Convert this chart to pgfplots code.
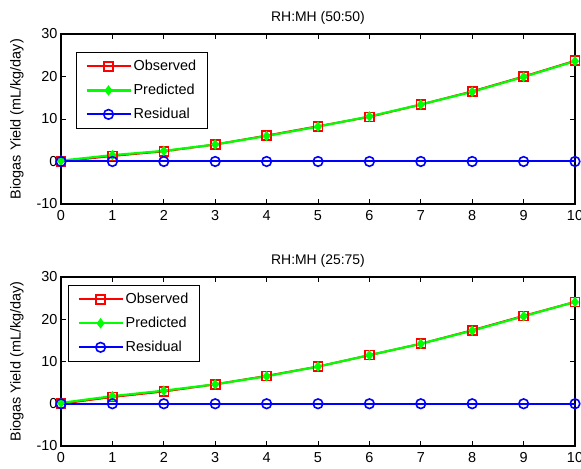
\documentclass[border=0pt]{standalone}
\usepackage{pgfplots}
\pgfplotsset{compat=1.18}
\usepackage{fontspec}
\setmainfont{Liberation Sans}
\begin{document}
\begin{tikzpicture}
\useasboundingbox (0bp,0bp) rectangle (581bp,469bp);
\pgfplotsset{
  myax/.style={
    scale only axis, width=514bp, height=170bp,
    xmin=0, xmax=10, ymin=-10, ymax=30,
    xtick={0,...,10}, ytick={-10,0,10,20,30},
    tick align=inside, tick pos=both,
    major tick length=5bp,
    axis line style={line width=1.1bp},
    every tick/.style={black, line width=0.9bp},
    tick label style={font=\fontsize{14.5}{16}\selectfont},
    xticklabel style={yshift=-3bp},
    /pgf/number format/assume math mode=true,
    title style={font=\fontsize{14}{16}\selectfont, yshift=0bp},
    ylabel={Biogas Yield (mL/kg/day)},
    ylabel style={font=\fontsize{14.5}{16}\selectfont, at={(axis description cs:-0.0856,0.5)}, anchor=center},
    legend style={font=\fontsize{14.5}{16}\selectfont, draw=black, line width=1bp,
      anchor=north west, inner xsep=9bp, inner ysep=6bp, row sep=8bp, cells={anchor=west},
      /tikz/every even column/.append style={column sep=5bp}},
    legend image code/.code={
      \draw[mark repeat=2,mark phase=2] plot coordinates {(0bp,0bp) (22bp,0bp) (44bp,0bp)};},
    clip=false,
  },
  obs/.style={red, line width=2bp, mark=square, mark size=4.5bp, mark options={line width=1.6bp}},
  pre/.style={green, line width=2.2bp, mark=diamond*, mark size=3.5bp},
  res/.style={blue, line width=2bp, mark=o, mark size=4.8bp, mark options={line width=1.6bp}},
}
\begin{axis}[myax, at={(61bp,265bp)}, anchor=south west, title={RH:MH (50:50)},
  legend style={at={(0.029,0.894)}}]
\addplot[obs] coordinates {(0,0) (1,1.3) (2,2.4) (3,4.0) (4,6.1) (5,8.3) (6,10.5) (7,13.4) (8,16.5) (9,20.0) (10,23.7)};
\addplot[pre] coordinates {(0,0.2) (1,1.5) (2,2.5) (3,4.0) (4,6.0) (5,8.2) (6,10.6) (7,13.4) (8,16.4) (9,19.9) (10,23.6)};
\addplot[res] coordinates {(0,0) (1,0) (2,0) (3,0) (4,0) (5,0) (6,0) (7,0) (8,0) (9,0) (10,0)};
\legend{Observed, Predicted, Residual}
\end{axis}
\begin{axis}[myax, at={(61bp,23bp)}, anchor=south west, height=169bp, title={RH:MH (25:75)},
  legend style={at={(0.0136,0.953)}}]
\addplot[obs] coordinates {(0,0) (1,1.6) (2,2.9) (3,4.6) (4,6.6) (5,8.8) (6,11.5) (7,14.2) (8,17.4) (9,20.8) (10,24.1)};
\addplot[pre] coordinates {(0,0.2) (1,1.8) (2,3.1) (3,4.6) (4,6.5) (5,8.8) (6,11.5) (7,14.2) (8,17.3) (9,20.7) (10,24.1)};
\addplot[res] coordinates {(0,0) (1,0) (2,0) (3,0) (4,0) (5,0) (6,0) (7,0) (8,0) (9,0) (10,0)};
\legend{Observed, Predicted, Residual}
\end{axis}
\end{tikzpicture}
\end{document}
